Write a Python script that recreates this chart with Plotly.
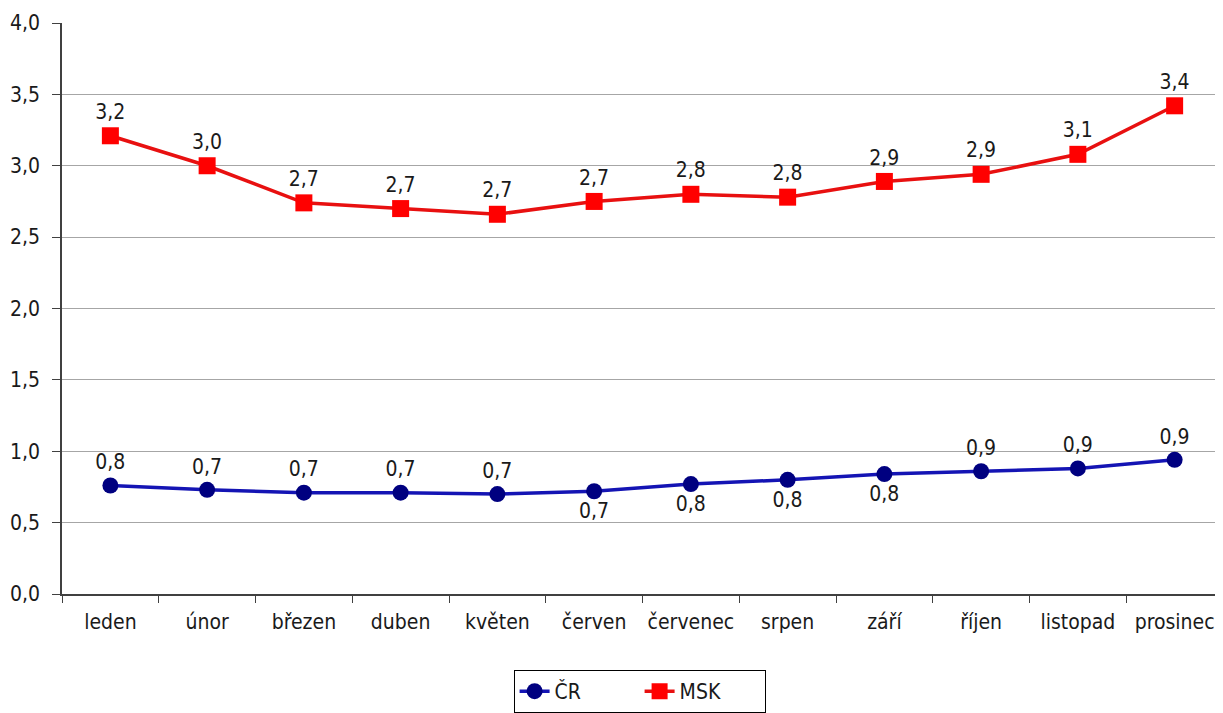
import plotly.graph_objects as go

months = ["leden", "únor", "březen", "duben", "květen", "červen",
          "červenec", "srpen", "září", "říjen", "listopad", "prosinec"]
cr = [0.76, 0.73, 0.71, 0.71, 0.70, 0.72, 0.77, 0.80, 0.84, 0.86, 0.88, 0.94]
msk = [3.21, 3.00, 2.74, 2.70, 2.66, 2.75, 2.80, 2.78, 2.89, 2.94, 3.08, 3.42]
cr_labels = ["0,8", "0,7", "0,7", "0,7", "0,7", "0,7", "0,8", "0,8", "0,8", "0,9", "0,9", "0,9"]
msk_labels = ["3,2", "3,0", "2,7", "2,7", "2,7", "2,7", "2,8", "2,8", "2,9", "2,9", "3,1", "3,4"]
cr_pos = ["top center"] * 5 + ["bottom center"] * 4 + ["top center"] * 3
y_ticks = [0, 0.5, 1.0, 1.5, 2.0, 2.5, 3.0, 3.5, 4.0]
y_tick_text = ["0,0", "0,5", "1,0", "1,5", "2,0", "2,5", "3,0", "3,5", "4,0"]

font = "DejaVu Sans Condensed, DejaVu Sans"
fsize = 21
txt_color = "#1a1a1a"

fig = go.Figure()
fig.add_trace(go.Scatter(
    x=months, y=cr, name="ČR", mode="lines+markers+text",
    line=dict(color="#1414B4", width=3.5),
    marker=dict(symbol="circle", size=16, color="#000080"),
    text=cr_labels, textposition=cr_pos,
    textfont=dict(family=font, size=fsize, color=txt_color),
    cliponaxis=False,
))
fig.add_trace(go.Scatter(
    x=months, y=msk, name="MSK", mode="lines+markers+text",
    line=dict(color="#E81010", width=3.5),
    marker=dict(symbol="square", size=17, color="#FF0000"),
    text=msk_labels, textposition="top center",
    textfont=dict(family=font, size=fsize, color=txt_color),
    cliponaxis=False,
))

fig.update_layout(
    width=1215, height=705,
    margin=dict(l=54, r=0, t=15, b=118),
    paper_bgcolor="white", plot_bgcolor="white",
    font=dict(family=font, size=fsize, color=txt_color),
    showlegend=True,
    legend=dict(
        orientation="h", x=0.4975, xanchor="center", y=-0.133, yanchor="top",
        bordercolor="#000000", borderwidth=1,
        font=dict(family=font, size=fsize, color=txt_color),
        entrywidth=80, traceorder="normal",
    ),
    xaxis=dict(
        type="category", tickson="boundaries", ticks="outside", ticklen=7,
        tickcolor="#404040", showline=True, linecolor="#404040", linewidth=1.5,
        showgrid=False, range=[-0.5, 11.5], ticklabelstandoff=8,
        tickfont=dict(family=font, size=fsize),
    ),
    yaxis=dict(
        range=[0, 4.0], tickvals=y_ticks, ticktext=y_tick_text,
        ticks="outside", ticklen=8, tickcolor="#404040",
        showline=True, linecolor="#404040", linewidth=1.5,
        showgrid=True, gridcolor="#A6A6A6", gridwidth=1,
        zeroline=False, ticklabelstandoff=8,
        tickfont=dict(family=font, size=fsize),
    ),
)

fig.write_html("out.html")
